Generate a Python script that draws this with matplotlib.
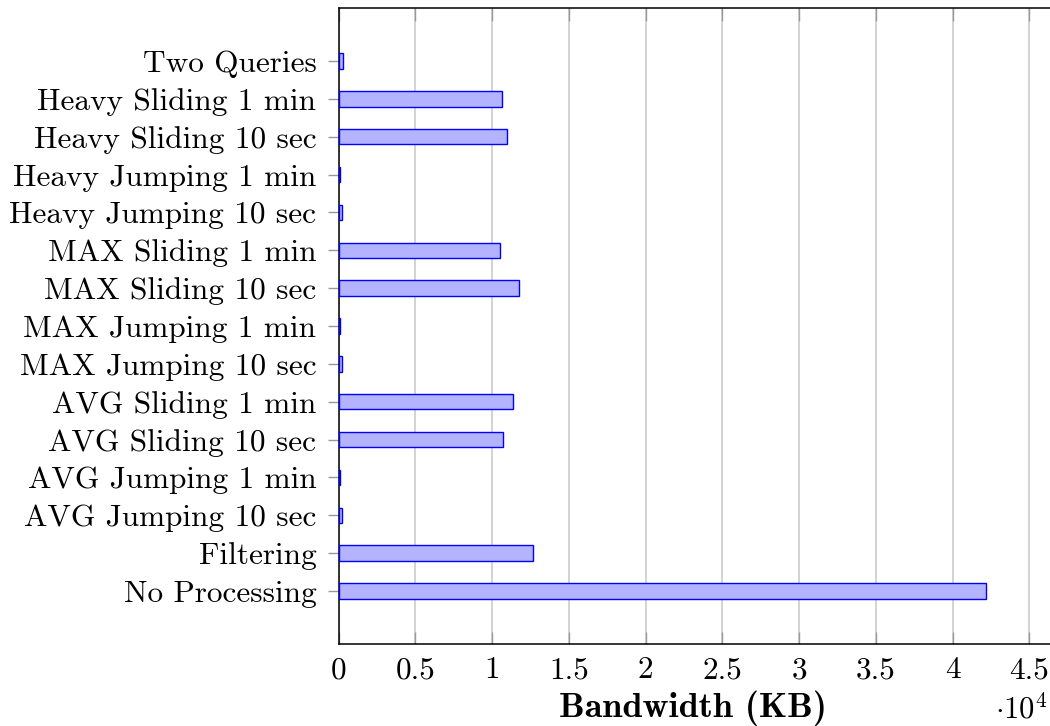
import matplotlib
matplotlib.use("Agg")
import matplotlib.pyplot as plt
from matplotlib.ticker import FuncFormatter, MultipleLocator

plt.rcParams['font.family'] = ['cmr10', 'DejaVu Serif']
plt.rcParams['mathtext.fontset'] = 'cm'
plt.rcParams['axes.formatter.use_mathtext'] = True

# categories from bottom to top
categories = [
    "No Processing", "Filtering",
    "AVG Jumping 10 sec", "AVG Jumping 1 min",
    "AVG Sliding 10 sec", "AVG Sliding 1 min",
    "MAX Jumping 10 sec", "MAX Jumping 1 min",
    "MAX Sliding 10 sec", "MAX Sliding 1 min",
    "Heavy Jumping 10 sec", "Heavy Jumping 1 min",
    "Heavy Sliding 10 sec", "Heavy Sliding 1 min",
    "Two Queries",
]
bandwidth_kb = [
    42180, 12670,
    250, 100,
    10710, 11340,
    250, 100,
    11750, 10500,
    250, 100,
    11000, 10620,
    290,
]

fig = plt.figure(figsize=(10.5, 7.26), dpi=100)
ax = fig.add_axes([338.6 / 1050, 1 - 644 / 726, (1060 - 338.6) / 1050, 636 / 726])

pos = list(range(len(categories)))
ax.barh(pos, bandwidth_kb, height=0.41, color='#b3b3ff', edgecolor='#0000ff',
        linewidth=1.0, zorder=3)

ax.set_xlim(0, 47000)
ax.set_ylim(-1.4, len(categories) - 1 + 1.4)
ax.set_yticks(pos)
ax.set_yticklabels(categories, fontsize=22.5)

ax.xaxis.set_major_locator(MultipleLocator(5000))
ax.xaxis.set_major_formatter(FuncFormatter(lambda v, p: ('%g' % (v / 1e4))))
ax.tick_params(axis='x', labelsize=22.5, direction='in', length=9, width=1,
               color='#999999', top=True, pad=9)
ax.tick_params(axis='y', direction='out', length=8, width=1, color='#999999',
               pad=8)

ax.grid(axis='x', color='#cccccc', linewidth=1.2, zorder=0)
ax.set_axisbelow(True)

for side in ['left', 'top', 'bottom']:
    ax.spines[side].set_color('black')
    ax.spines[side].set_linewidth(1.1)
ax.spines['right'].set_visible(False)

xl = ax.set_xlabel('Bandwidth (KB)', family='cmb10', fontsize=26)
xl.set_va('baseline')
ax.xaxis.set_label_coords(0.491, -0.1155)
ax.text(0.982, -0.1165, r'$\cdot 10^4$', transform=ax.transAxes, fontsize=22,
        ha='right', va='baseline')

fig.savefig('out.png', dpi=100)
